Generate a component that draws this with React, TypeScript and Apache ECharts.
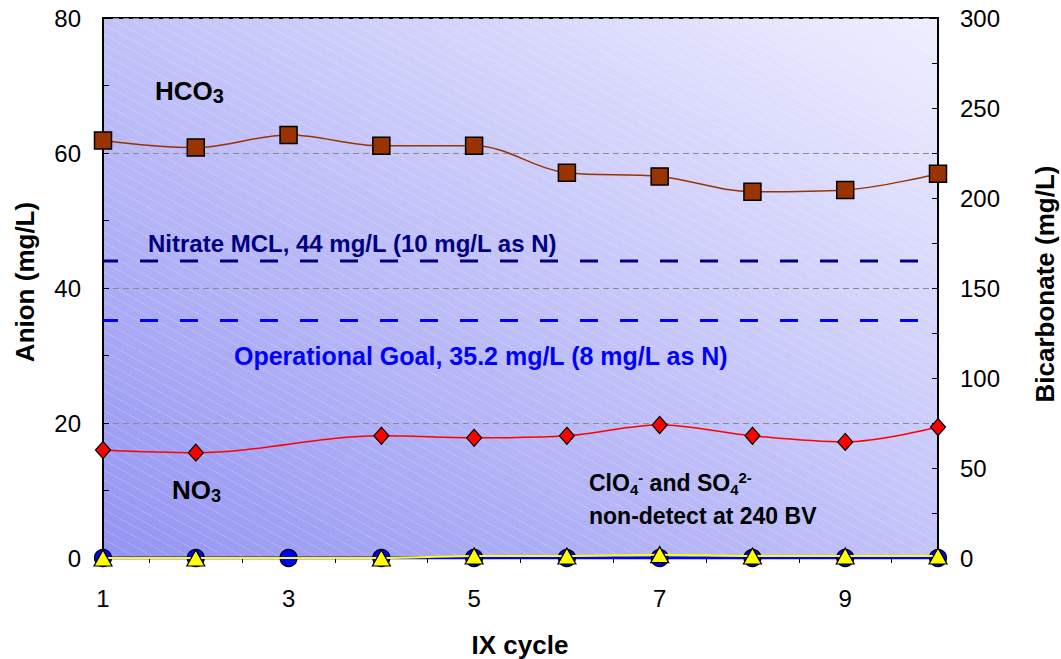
import React, { useEffect, useRef } from "react";
import * as echarts from "echarts";

// ---- data ----
const cycles = [1, 2, 3, 4, 5, 6, 7, 8, 9, 10];
const hco3 = [232, 228, 235, 229, 229, 214, 212, 203.5, 204.5, 213.5];
const no3 = [16, 15.6, null, 18.1, 17.8, 18.1, 19.7, 18.1, 17.2, 19.4];
const clo4 = [0, 0, 0, 0, 0, 0, 0, 0, 0, 0];
const so4 = [0, 0, null, 0, 0.3, 0.3, 0.5, 0.3, 0.3, 0.3];
const nitrateMcl = 44;
const operationalGoal = 35.2;
const leftTicks = { min: 0, max: 80, interval: 20 };
const rightTicks = { min: 0, max: 300, interval: 50 };

const FONT = "'Liberation Sans', Arial, sans-serif";
const L = 103, R = 938, T = 18, B = 558;

function pairs(vals: (number | null)[]) {
  const out: number[][] = [];
  vals.forEach((v, i) => {
    if (v !== null && v !== undefined) out.push([cycles[i], v]);
  });
  return out;
}

function hatch() {
  const s = 0.55, h = 18;
  const els: any[] = [];
  const cMin = T - s * R, cMax = B - s * L;
  for (let c = cMin; c <= cMax; c += s * h) {
    const x1 = Math.max(L, (T - c) / s);
    const x2 = Math.min(R, (B - c) / s);
    if (x2 - x1 > 1) {
      els.push({
        type: "line",
        z: -5,
        silent: true,
        shape: { x1, y1: s * x1 + c, x2, y2: s * x2 + c },
        style: { stroke: "rgba(255,255,255,0.3)", lineWidth: 1, lineDash: [2, 1] },
      });
    }
  }
  return els;
}

function txt(x: number, y: number, text: string, extra: any = {}, rich?: any) {
  return {
    type: "text",
    x,
    y,
    z: 20,
    silent: true,
    rotation: extra.rotation || 0,
    style: {
      text,
      fill: extra.fill || "#000",
      font: `bold ${extra.size || 22}px ${FONT}`,
      fontFamily: FONT,
      fontWeight: "bold",
      fontSize: extra.size || 22,
      textAlign: extra.align || "left",
      align: extra.align || "left",
      textVerticalAlign: "middle",
      verticalAlign: "middle",
      rich,
    },
  };
}

function richStyles(base: number, sub: number) {
  return {
    b: { fontSize: base, fontWeight: "bold", fontFamily: FONT, lineHeight: base + 4, color: "#000" },
    g: { fontSize: 4, fontFamily: FONT, lineHeight: 4, color: "#000" },
    s: { fontSize: sub, fontWeight: "bold", fontFamily: FONT, lineHeight: sub - 2, verticalAlign: "bottom", color: "#000" },
    p: { fontSize: sub, fontWeight: "bold", fontFamily: FONT, lineHeight: sub - 2, verticalAlign: "top", color: "#000" },
  };
}

export default function App() {
  const ref = useRef<HTMLDivElement>(null);
  useEffect(() => {
    if (!ref.current) return;
    const chart = echarts.init(ref.current, undefined, { renderer: "svg" });
    const axisLabel = { color: "#000", fontSize: 24, fontFamily: FONT };
    const option: any = {
      animation: false,
      grid: {
        left: L, right: 1061 - R, top: T, bottom: 659 - B,
        show: true, borderColor: "#000", borderWidth: 2, backgroundColor: "transparent",
      },
      xAxis: {
        type: "value", min: 1, max: 10, interval: 1,
        axisLine: { show: true, lineStyle: { color: "#000", width: 1.5 } },
        axisTick: { show: false },
        minorTick: { show: true, splitNumber: 2, length: 5, lineStyle: { color: "#000", width: 1 } },
        splitLine: { show: false },
        axisLabel: { ...axisLabel, margin: 28, formatter: (v: number) => (v % 2 === 1 ? String(v) : "") },
      },
      yAxis: [
        {
          type: "value", ...leftTicks, position: "left",
          axisLine: { show: true, lineStyle: { color: "#000", width: 2 } },
          axisTick: { show: true, inside: true, length: 6, lineStyle: { color: "#000" } },
          minorTick: { show: true, splitNumber: 2, length: 6, lineStyle: { color: "#000" } },
          splitLine: { show: true, lineStyle: { color: "#8a8a8a", width: 1, type: [6, 4] } },
          axisLabel: { ...axisLabel, margin: 22 },
        },
        {
          type: "value", ...rightTicks, position: "right",
          axisLine: { show: true, lineStyle: { color: "#000", width: 2 } },
          axisTick: { show: true, inside: true, length: 6, lineStyle: { color: "#000" } },
          minorTick: { show: true, splitNumber: 2, length: 6, lineStyle: { color: "#000" } },
          splitLine: { show: false },
          axisLabel: { ...axisLabel, margin: 22 },
        },
      ],
      series: [
        {
          name: "Nitrate MCL", type: "line", yAxisIndex: 0, symbol: "none", z: 3,
          data: [[cycles[0], nitrateMcl], [cycles[cycles.length - 1], nitrateMcl]],
          lineStyle: { color: "#000080", width: 3, type: [18, 22], dashOffset: 3 },
        },
        {
          name: "Operational Goal", type: "line", yAxisIndex: 0, symbol: "none", z: 3,
          data: [[cycles[0], operationalGoal], [cycles[cycles.length - 1], operationalGoal]],
          lineStyle: { color: "#0000ff", width: 3, type: [18, 22], dashOffset: 3 },
        },
        {
          name: "HCO3", type: "line", yAxisIndex: 1, smooth: 0.35, z: 4,
          data: pairs(hco3),
          symbol: "rect", symbolSize: 17,
          lineStyle: { color: "#993300", width: 1.5 },
          itemStyle: { color: "#993300", borderColor: "#000", borderWidth: 1.5 },
        },
        {
          name: "NO3", type: "line", yAxisIndex: 0, smooth: 0.35, z: 4,
          data: pairs(no3),
          symbol: "diamond", symbolSize: [15, 17],
          lineStyle: { color: "#ff0000", width: 1.5 },
          itemStyle: { color: "#ff0000", borderColor: "#000", borderWidth: 1.2 },
        },
        {
          name: "ClO4", type: "line", yAxisIndex: 0, z: 5,
          data: pairs(clo4),
          symbol: "circle", symbolSize: 17,
          lineStyle: { color: "#0000ff", width: 3 },
          itemStyle: { color: "#0000ff", borderColor: "#000", borderWidth: 1.2 },
        },
        {
          name: "SO4", type: "line", yAxisIndex: 0, smooth: 0.3, z: 6,
          data: pairs(so4),
          symbol: "triangle", symbolSize: [18, 16],
          lineStyle: { color: "#ffff00", width: 2 },
          itemStyle: { color: "#ffff00", borderColor: "#000", borderWidth: 1.2 },
        },
      ],
      graphic: [
        {
          type: "rect", z: -10, silent: true,
          shape: { x: L, y: T, width: R - L, height: B - T },
          style: {
            fill: new echarts.graphic.LinearGradient(0, 1, 1, 0, [
              { offset: 0, color: "#9494f2" },
              { offset: 0.5, color: "#c2c2f9" },
              { offset: 1, color: "#eeeeff" },
            ]),
          },
        },
        ...hatch(),
        txt(155, 91, "{b|HCO}{s|3}", {}, richStyles(26, 20)),
        txt(172, 490, "{b|NO}{s|3}", {}, richStyles(26, 18)),
        txt(148, 243, "Nitrate MCL, 44 mg/L (10 mg/L as N)", { fill: "#000080", size: 24 }),
        txt(234, 356, "Operational Goal, 35.2 mg/L (8 mg/L as N)", { fill: "#0000ff", size: 25 }),
        txt(589, 483, "{b|ClO}{s|4}{p|-}{b| and SO}{s|4}{p|2-}", {}, richStyles(23, 15)),
        txt(589, 516, "non-detect at 240 BV", { size: 23 }),
        txt(520, 645, "IX cycle", { size: 26, align: "center" }),
        txt(25, 282, "Anion (mg/L)", { size: 26, align: "center", rotation: Math.PI / 2 }),
        txt(1045, 284, "Bicarbonate (mg/L)", { size: 26, align: "center", rotation: Math.PI / 2 }),
      ],
    };
    chart.setOption(option);
    return () => chart.dispose();
  }, []);
  return (
    <div
      ref={ref}
      style={{ position: "fixed", left: 0, top: 0, width: 1061, height: 659, background: "#fff" }}
    />
  );
}
